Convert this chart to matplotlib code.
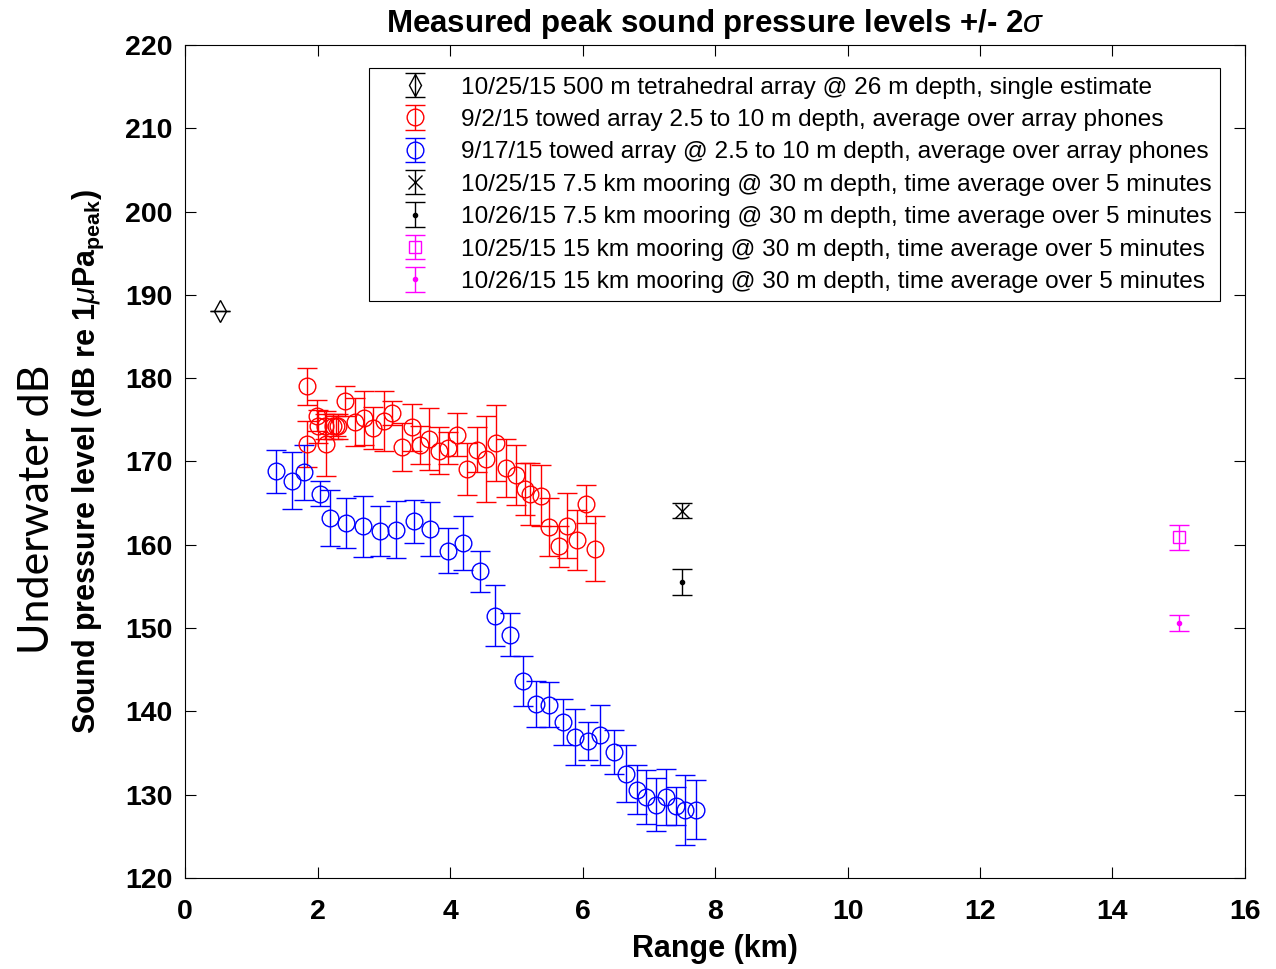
import numpy as np
import matplotlib
matplotlib.use("Agg")
import matplotlib.pyplot as plt

plt.rcParams['font.family'] = ['Liberation Sans', 'DejaVu Sans']
plt.rcParams['mathtext.fontset'] = 'custom'
plt.rcParams['mathtext.rm'] = 'Liberation Sans'
plt.rcParams['mathtext.it'] = 'Liberation Sans:italic'
plt.rcParams['mathtext.bf'] = 'Liberation Sans:bold'

# 10/25/15 tetrahedral array, single estimate
tet_x = [0.53]
tet_y = [188.1]
tet_err = [0.0]

# 9/2/15 towed array (red)
red_x = [1.84, 1.84, 1.99, 2.00, 2.13, 2.12, 2.23, 2.28, 2.31, 2.41, 2.56, 2.70,
         2.84, 3.00, 3.13, 3.28, 3.42, 3.55, 3.69, 3.83, 3.97, 4.11, 4.26, 4.40,
         4.55, 4.70, 4.84, 5.00, 5.13, 5.21, 5.37, 5.50, 5.65, 5.77, 5.91, 6.06, 6.19]
red_y = [179.0, 172.1, 175.5, 174.2, 172.1, 174.2, 174.2, 174.3, 174.2, 177.3, 174.7, 175.2,
         174.0, 174.9, 175.8, 171.7, 174.1, 172.0, 172.7, 171.3, 171.6, 173.2, 169.1, 171.4,
         170.3, 172.2, 169.2, 168.4, 166.7, 166.1, 165.9, 162.1, 159.8, 162.3, 160.6, 164.9, 159.5]
red_err = [2.2, 2.8, 1.9, 2.0, 3.9, 1.5, 1.5, 1.2, 1.5, 1.8, 2.9, 3.2,
           2.5, 3.6, 1.4, 2.9, 2.8, 2.3, 3.7, 2.8, 1.9, 2.6, 3.1, 2.7,
           5.2, 4.6, 3.5, 3.6, 3.1, 3.7, 3.7, 3.5, 2.5, 3.9, 3.6, 2.3, 3.9]

# 9/17/15 towed array (blue)
blue_x = [1.38, 1.62, 1.80, 2.03, 2.19, 2.43, 2.69, 2.95, 3.18, 3.45, 3.70, 3.97,
          4.20, 4.46, 4.68, 4.90, 5.10, 5.30, 5.49, 5.70, 5.88, 6.09, 6.26, 6.47,
          6.65, 6.82, 6.96, 7.11, 7.26, 7.41, 7.55, 7.71]
blue_y = [168.8, 167.7, 168.7, 166.1, 163.2, 162.6, 162.2, 161.7, 161.8, 162.8, 161.9, 159.3,
          160.2, 156.8, 151.5, 149.2, 143.6, 140.9, 140.8, 138.7, 136.9, 136.4, 137.2, 135.1,
          132.5, 130.6, 129.7, 128.8, 129.7, 128.6, 128.2, 128.2]
blue_err = [2.6, 3.4, 3.3, 1.5, 3.4, 3.0, 3.7, 3.0, 3.4, 2.6, 3.2, 2.7,
            3.2, 2.5, 3.7, 2.6, 3.0, 2.8, 2.7, 2.8, 3.4, 2.3, 3.6, 2.6,
            3.4, 2.9, 3.2, 3.2, 3.4, 2.3, 4.2, 3.5]

# moorings
m75_a_x, m75_a_y, m75_a_err = [7.5], [164.1], [0.9]
m75_b_x, m75_b_y, m75_b_err = [7.5], [155.5], [1.55]
m15_a_x, m15_a_y, m15_a_err = [15.0], [160.9], [1.5]
m15_b_x, m15_b_y, m15_b_err = [15.0], [150.6], [1.0]

labels = [
    "10/25/15 500 m tetrahedral array @ 26 m depth, single estimate",
    "9/2/15 towed array 2.5 to 10 m depth, average over array phones",
    "9/17/15 towed array @ 2.5 to 10 m depth, average over array phones",
    "10/25/15 7.5 km mooring @ 30 m depth, time average over 5 minutes",
    "10/26/15 7.5 km mooring @ 30 m depth, time average over 5 minutes",
    "10/25/15 15 km mooring @ 30 m depth, time average over 5 minutes",
    "10/26/15 15 km mooring @ 30 m depth, time average over 5 minutes",
]

magenta = '#ff00ff'

fig = plt.figure(figsize=(12.76, 9.69), dpi=100)
ax = fig.add_axes([0.145, 0.094, 0.8307, 0.8596])

kw = dict(linestyle='none', capsize=7, elinewidth=1.0, capthick=1.0, mew=1.0)
ax.errorbar(tet_x, tet_y, yerr=tet_err, fmt='d', color='k', mfc='none', ms=11, label=labels[0], **kw)
ax.errorbar(red_x, red_y, yerr=red_err, fmt='o', color='r', mfc='none', ms=12, label=labels[1], **kw)
ax.errorbar(blue_x, blue_y, yerr=blue_err, fmt='o', color='b', mfc='none', ms=12, label=labels[2], **kw)
ax.errorbar(m75_a_x, m75_a_y, yerr=m75_a_err, fmt='x', color='k', ms=10, label=labels[3], **kw)
ax.errorbar(m75_b_x, m75_b_y, yerr=m75_b_err, fmt='.', color='k', ms=6, label=labels[4], **kw)
ax.errorbar(m15_a_x, m15_a_y, yerr=m15_a_err, fmt='s', color=magenta, mfc='none', ms=9, label=labels[5], **kw)
ax.errorbar(m15_b_x, m15_b_y, yerr=m15_b_err, fmt='.', color=magenta, ms=6, label=labels[6], **kw)

ax.set_xlim(0, 16)
ax.set_ylim(120, 220)
ax.set_xticks(np.arange(0, 17, 2))
ax.set_yticks(np.arange(120, 221, 10))
ax.tick_params(direction='in', top=True, right=True, length=8, width=0.8,
               labelsize=20.5, pad=9)
ax.tick_params(axis='x', pad=15)
for lab in ax.get_xticklabels() + ax.get_yticklabels():
    lab.set_fontweight('bold')
for s in ax.spines.values():
    s.set_linewidth(0.8)

ax.set_title(r"Measured peak sound pressure levels +/- 2$\sigma$", fontsize=22.5, fontweight='bold', pad=9)
ax.set_xlabel("Range (km)", fontsize=22, fontweight='bold', labelpad=7)
ax.set_ylabel(r"Sound pressure level (dB re 1$\mu$Pa$_{\mathbf{peak}}$)", fontsize=22,
              fontweight='bold', labelpad=14)

fig.text(0.029, 0.474, "Underwater dB", rotation=90, fontsize=31, family='Lato',
         ha='center', va='center')

leg = ax.legend(loc='upper right', bbox_to_anchor=(0.9764, 0.9724), fontsize=17.6,
                frameon=True, fancybox=False, edgecolor='k', framealpha=1,
                handlelength=3.1, handletextpad=0.3, labelspacing=0.42, borderpad=0.35,
                borderaxespad=0)
leg.get_frame().set_linewidth(0.8)

fig.savefig("out.png", dpi=100)
